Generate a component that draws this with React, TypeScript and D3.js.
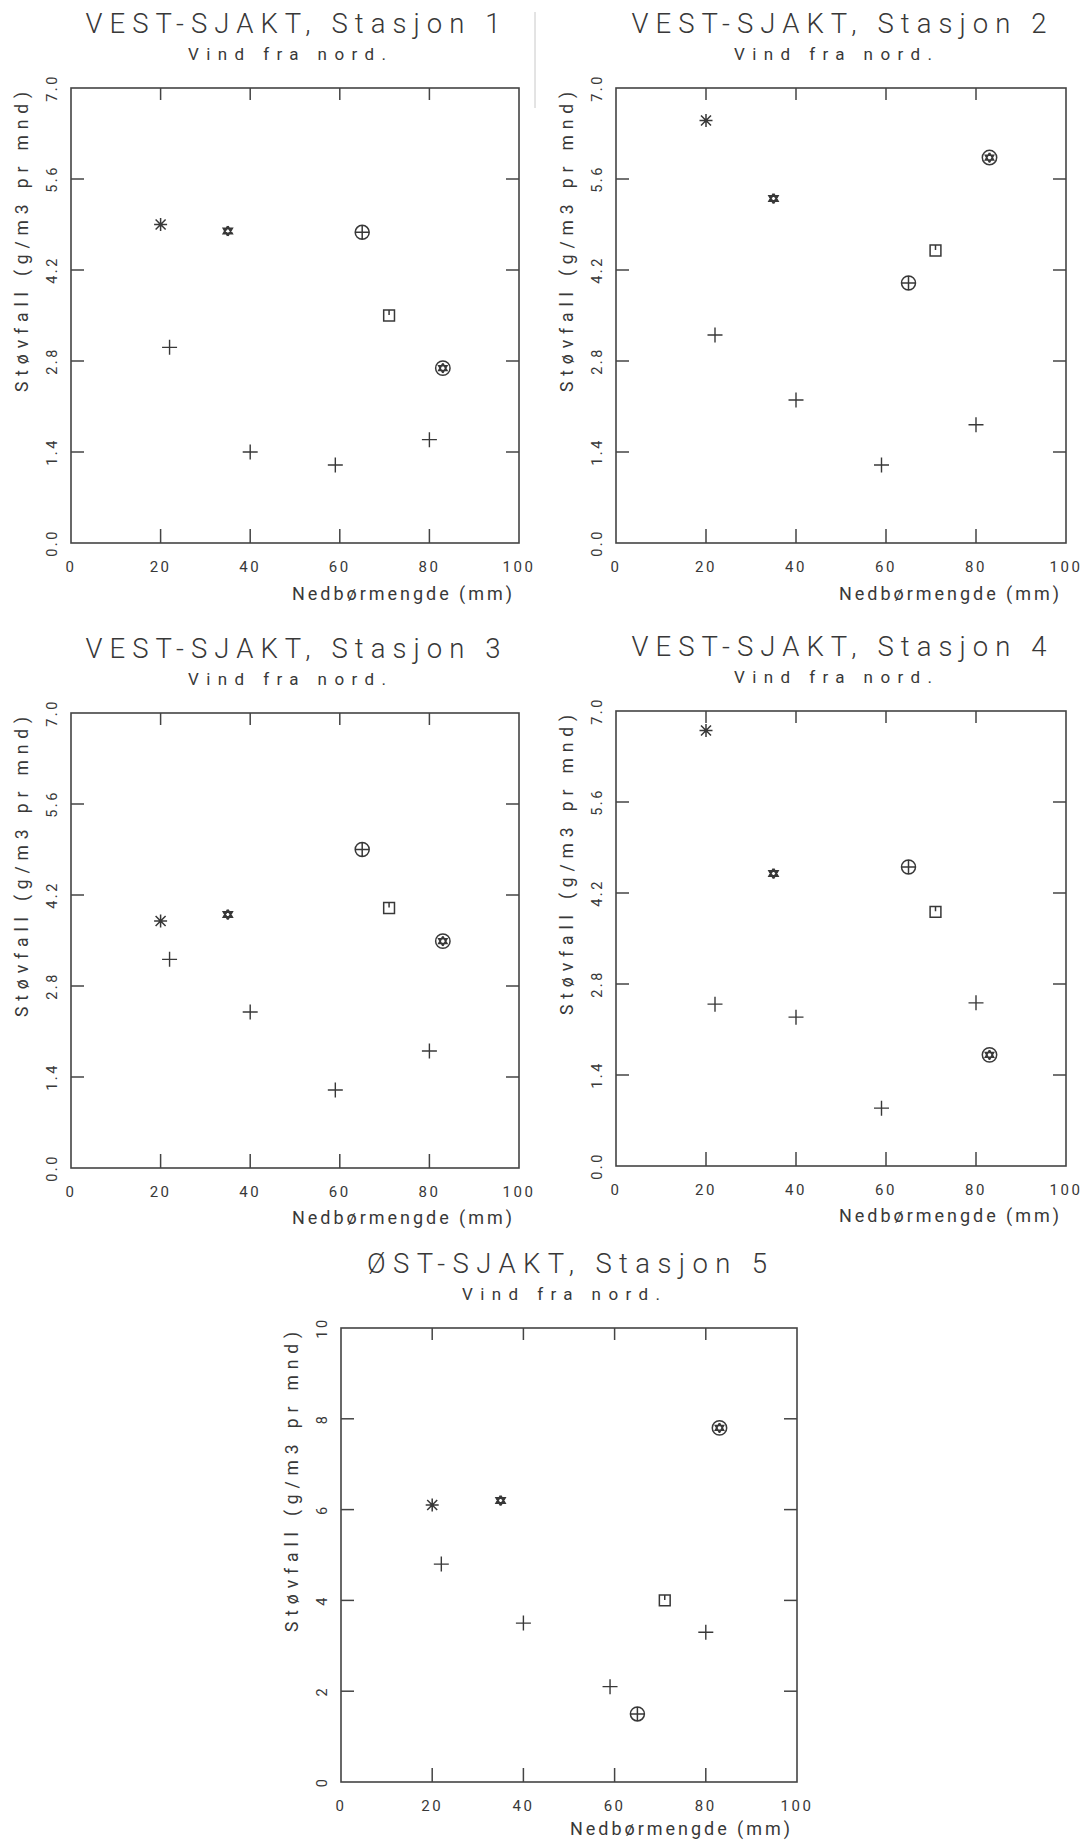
import React from "react";
import * as d3 from "d3";

// Axis ticks
const rainTicks = [0, 20, 40, 60, 80, 100];
const vestDustTicks = [0, 1.4, 2.8, 4.2, 5.6, 7.0];
const ostDustTicks = [0, 2, 4, 6, 8, 10];

// Texts
const stationTitles = [
  "VEST-SJAKT, Stasjon 1",
  "VEST-SJAKT, Stasjon 2",
  "VEST-SJAKT, Stasjon 3",
  "VEST-SJAKT, Stasjon 4",
  "ØST-SJAKT, Stasjon 5",
];
const windLabel = "Vind fra nord.";
const xAxisTitle = "Nedbørmengde  (mm)";
const yAxisTitle = "Støvfall (g/m3 pr mnd)";

// Months drawn with a distinct symbol, and the months drawn with a plain cross
const symbolKinds = ["asterisk", "hexagram", "circlePlus", "squareTick", "circleStar"];
const symbolRain = [20, 35, 65, 71, 83];
const crossRain = [22, 40, 59, 80];

// Dust fall (g/m3 pr mnd) per station
const stasjon1Symbols = [4.9, 4.8, 4.78, 3.5, 2.69];
const stasjon1Cross = [3.01, 1.4, 1.2, 1.59];
const stasjon2Symbols = [6.5, 5.3, 4.0, 4.5, 5.93];
const stasjon2Cross = [3.2, 2.2, 1.2, 1.82];
const stasjon3Symbols = [3.8, 3.9, 4.9, 4.0, 3.49];
const stasjon3Cross = [3.21, 2.4, 1.2, 1.8];
const stasjon4Symbols = [6.7, 4.5, 4.6, 3.91, 1.71];
const stasjon4Cross = [2.49, 2.29, 0.89, 2.51];
const stasjon5Symbols = [6.1, 6.2, 1.5, 4.0, 7.8];
const stasjon5Cross = [4.8, 3.5, 2.1, 3.3];

const stationSymbols = [stasjon1Symbols, stasjon2Symbols, stasjon3Symbols, stasjon4Symbols, stasjon5Symbols];
const stationCross = [stasjon1Cross, stasjon2Cross, stasjon3Cross, stasjon4Cross, stasjon5Cross];
const stationDustTicks = [vestDustTicks, vestDustTicks, vestDustTicks, vestDustTicks, ostDustTicks];

// Plot frames on the page
const panelBoxes = [
  { x0: 71, x1: 519, y0: 88, y1: 543, xtDy: 57 },
  { x0: 616, x1: 1066, y0: 88, y1: 543, xtDy: 57 },
  { x0: 71, x1: 519, y0: 713, y1: 1168, xtDy: 56 },
  { x0: 616, x1: 1066, y0: 711, y1: 1166, xtDy: 56 },
  { x0: 341, x1: 797, y0: 1328, y1: 1782, xtDy: 53 },
];

const INK = "#383838";
const FONT = "Roboto, 'Liberation Sans', sans-serif";

function hexagram(p: d3.Path, cx: number, cy: number, r: number) {
  for (const rot of [-Math.PI / 2, Math.PI / 2]) {
    for (let k = 0; k <= 3; k++) {
      const a = rot + (k * 2 * Math.PI) / 3;
      const x = cx + r * Math.cos(a);
      const y = cy + r * Math.sin(a);
      if (k === 0) p.moveTo(x, y);
      else p.lineTo(x, y);
    }
  }
}

function markerPath(kind: string, cx: number, cy: number): string {
  const p = d3.path();
  if (kind === "cross") {
    p.moveTo(cx - 7.5, cy); p.lineTo(cx + 7.5, cy);
    p.moveTo(cx, cy - 7.5); p.lineTo(cx, cy + 7.5);
  } else if (kind === "asterisk") {
    const s = 6.5, d = 5;
    p.moveTo(cx - s, cy); p.lineTo(cx + s, cy);
    p.moveTo(cx, cy - s); p.lineTo(cx, cy + s);
    p.moveTo(cx - d, cy - d); p.lineTo(cx + d, cy + d);
    p.moveTo(cx - d, cy + d); p.lineTo(cx + d, cy - d);
  } else if (kind === "hexagram") {
    hexagram(p, cx, cy, 4.8);
  } else if (kind === "circlePlus") {
    const r = 7;
    p.moveTo(cx + r, cy); p.arc(cx, cy, r, 0, 2 * Math.PI);
    p.moveTo(cx - r, cy); p.lineTo(cx + r, cy);
    p.moveTo(cx, cy - r); p.lineTo(cx, cy + r);
  } else if (kind === "squareTick") {
    const h = 5.4;
    p.rect(cx - h, cy - h, 2 * h, 2 * h);
    p.moveTo(cx, cy - h); p.lineTo(cx, cy - 0.5);
  } else if (kind === "circleStar") {
    const r = 7.2;
    p.moveTo(cx + r, cy); p.arc(cx, cy, r, 0, 2 * Math.PI);
    hexagram(p, cx, cy, 4.8);
  }
  return p.toString();
}

function Panel({ idx }: { idx: number }) {
  const b = panelBoxes[idx];
  const yTicks = stationDustTicks[idx];
  const yMax = yTicks[yTicks.length - 1];
  const x = d3.scaleLinear().domain([0, 100]).range([b.x0, b.x1]);
  const y = d3.scaleLinear().domain([0, yMax]).range([b.y1, b.y0]);
  const yFmt = yMax === 10 ? d3.format("d") : d3.format(".1f");
  const innerX = rainTicks.slice(1, -1);
  const innerY = yTicks.slice(1, -1);
  const cxMid = (b.x0 + b.x1) / 2;

  return (
    <g>
      <text x={cxMid - 2} y={b.y0 - 55} textAnchor="middle" fontFamily={FONT} fontWeight={300}
        fontSize={27.5} fill={INK} textLength={idx === 4 ? 400 : 415} lengthAdjust="spacing">
        {stationTitles[idx]}
      </text>
      <text x={cxMid - 8} y={b.y0 - 28} textAnchor="middle" fontFamily={FONT} fontWeight={400}
        fontSize={17} fill={INK} textLength={idx === 4 ? 198 : 198} lengthAdjust="spacing">
        {windLabel}
      </text>

      <rect x={b.x0} y={b.y0} width={b.x1 - b.x0} height={b.y1 - b.y0} fill="none" stroke="#444" strokeWidth={1.6} />

      {innerX.map((t) => (
        <g key={"xt" + t} stroke="#444" strokeWidth={1.5}>
          <line x1={x(t)} x2={x(t)} y1={b.y0} y2={b.y0 + 12} />
          <line x1={x(t)} x2={x(t)} y1={b.y1} y2={b.y1 - 14} />
        </g>
      ))}
      {innerY.map((t) => (
        <g key={"yt" + t} stroke="#444" strokeWidth={1.5}>
          <line x1={b.x0} x2={b.x0 + 13} y1={y(t)} y2={y(t)} />
          <line x1={b.x1} x2={b.x1 - 13} y1={y(t)} y2={y(t)} />
        </g>
      ))}

      {rainTicks.map((t) => (
        <text key={"xl" + t} x={x(t)} y={b.y1 + 29} textAnchor="middle" fontFamily={FONT}
          fontWeight={400} fontSize={15} fill={INK} letterSpacing={2.5}>
          {t}
        </text>
      ))}
      {yTicks.map((t) => (
        <text key={"yl" + t} transform={`translate(${b.x0 - 14},${y(t)}) rotate(-90)`}
          textAnchor="middle" fontFamily={FONT} fontWeight={400} fontSize={14.5} fill={INK}
          letterSpacing={2.5}>
          {yFmt(t)}
        </text>
      ))}

      <text x={b.x1 - 7} y={b.y1 + b.xtDy} textAnchor="end" fontFamily={FONT} fontWeight={400}
        fontSize={18} fill={INK} textLength={220} lengthAdjust="spacing">
        {xAxisTitle}
      </text>
      <text transform={`translate(${b.x0 - 43},${b.y0 + 4}) rotate(-90)`} textAnchor="end"
        fontFamily={FONT} fontWeight={400} fontSize={17.5} fill={INK} textLength={300}
        lengthAdjust="spacing">
        {yAxisTitle}
      </text>

      <g fill="none" stroke={INK} strokeWidth={1.4}>
        {crossRain.map((r, i) => (
          <path key={"c" + i} d={markerPath("cross", x(r), y(stationCross[idx][i]))} />
        ))}
        {symbolRain.map((r, i) => (
          <path key={"s" + i} d={markerPath(symbolKinds[i], x(r), y(stationSymbols[idx][i]))}
            strokeWidth={symbolKinds[i] === "hexagram" ? 2 : 1.5} />
        ))}
      </g>
    </g>
  );
}

export default function App() {
  return (
    <svg width={1088} height={1841} style={{ position: "absolute", left: 0, top: 0, background: "#fff" }}>
      <rect width={1088} height={1841} fill="#fff" />
      <line x1={535} x2={535} y1={12} y2={108} stroke="#c8c8c8" strokeWidth={1} />
      {panelBoxes.map((_, i) => (
        <Panel key={i} idx={i} />
      ))}
    </svg>
  );
}
